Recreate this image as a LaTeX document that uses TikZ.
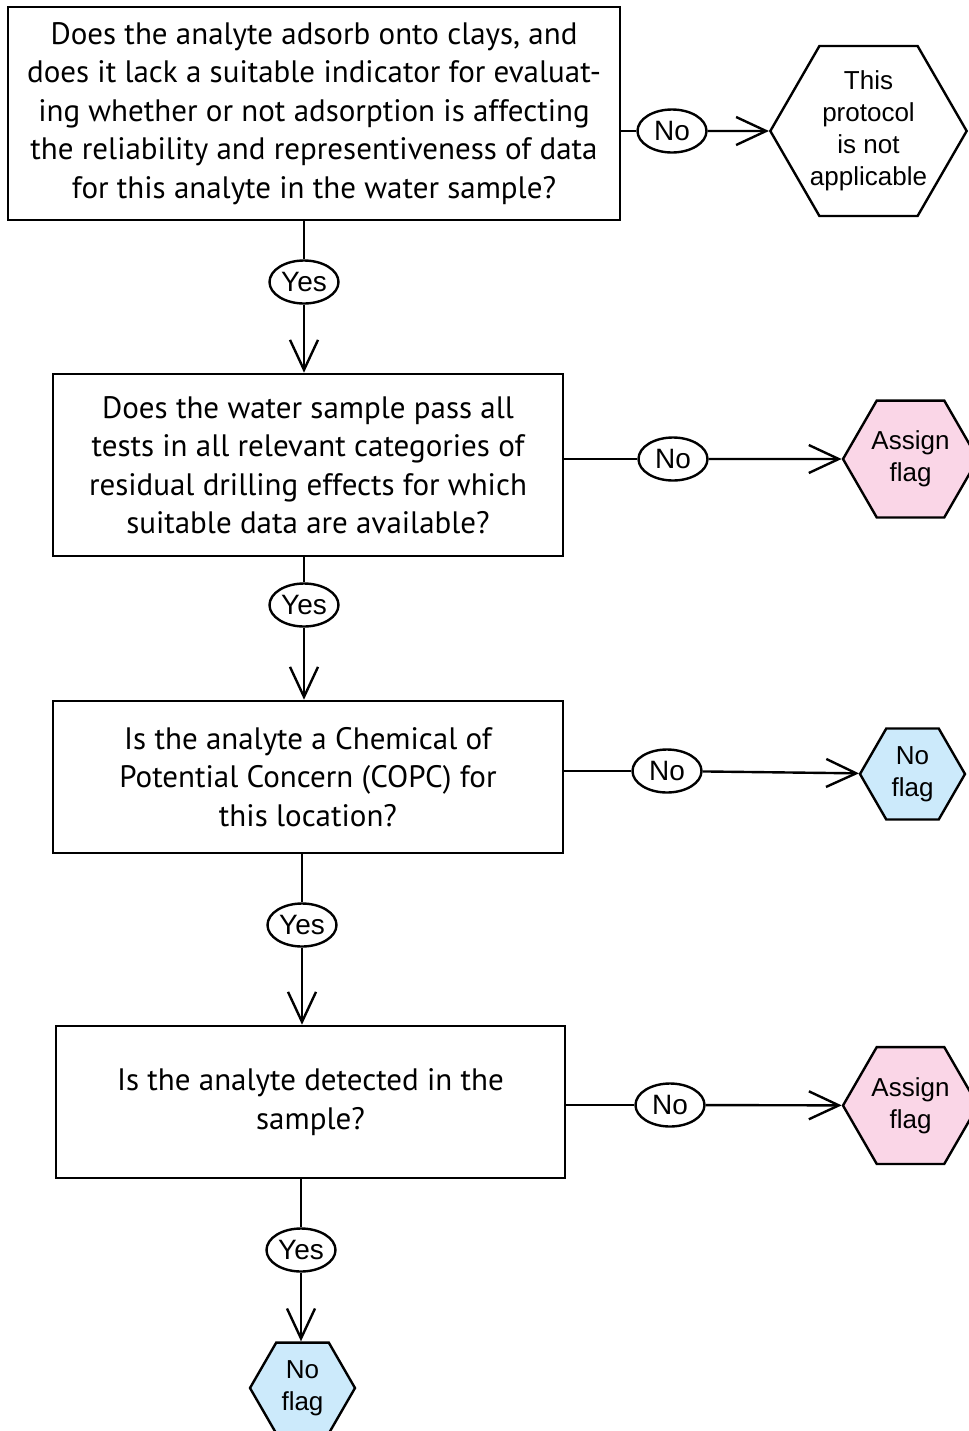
\documentclass[tikz,border=0pt]{standalone}
\usepackage{fontspec}
\setmainfont{PT Sans}
\newfontfamily\arialfont{Liberation Sans}
\usetikzlibrary{shapes.geometric,arrows.meta}
\definecolor{flagpink}{RGB}{250,214,231}
\definecolor{flagblue}{RGB}{204,234,251}
\tikzset{
  question/.style={draw,line width=1.3pt,align=center,inner sep=0pt,font=\fontsize{15.5}{19.25}\selectfont},
  answer/.style={draw,ellipse,fill=white,line width=1.2pt,inner sep=0pt,minimum width=34.5pt,minimum height=21.5pt,font=\arialfont\fontsize{14}{16}\selectfont},
  outcome/.style={draw,regular polygon,regular polygon sides=6,line width=1.2pt,inner sep=0pt,align=center,font=\arialfont\fontsize{13}{16}\selectfont},
}
\begin{document}
\begin{tikzpicture}[x=0.5pt,y=-0.5pt]
      \useasboundingbox (0,0) rectangle (969,1431);
      \draw
        (314,113.5) node[question,minimum width=306pt,minimum height=106.5pt] (q1){Does the analyte adsorb onto clays, and\\does it lack a suitable indicator for evaluat-\\ing whether or not adsorption is affecting\\the reliability and representiveness of data\\for this analyte in the water sample?}
        (308,465) node[question,minimum width=255pt,minimum height=91pt] (q2){Does the water sample pass all\\tests in all relevant categories of\\residual drilling effects for which\\suitable data are available?}
        (308,777) node[question,minimum width=255pt,minimum height=76pt] (q3){Is the analyte a Chemical of\\Potential Concern (COPC) for\\this location?}
        (310.5,1102) node[question,minimum width=254.5pt,minimum height=76pt] (q4){Is the analyte detected in the\\sample?};
      \draw
        (868.5,131) node[outcome,minimum size=96.5pt] (na){This\\protocol\\is not\\applicable}
        (910.5,459) node[outcome,fill=flagpink,minimum size=67.5pt] (flag1){Assign\\flag}
        (912.5,774) node[outcome,fill=flagblue,minimum size=52.5pt] (noflag1){No\\flag}
        (910.5,1105.5) node[outcome,fill=flagpink,minimum size=67.5pt] (flag2){Assign\\flag}
        (302.5,1388) node[outcome,fill=flagblue,minimum size=52.5pt] (noflag2){No\\flag};
      \draw
        (304,282) node[answer] (yes1){Yes}
        (304,605) node[answer] (yes2){Yes}
        (302,925) node[answer] (yes3){Yes}
        (301,1250) node[answer] (yes4){Yes}
        (672,131) node[answer] (no1){No}
        (673,459) node[answer] (no2){No}
        (667,771) node[answer] (no3){No}
        (670,1105) node[answer] (no4){No};
      \begin{scope}[line width=1.2pt,-{Straight Barb[length=15pt,width=14pt]}]
        \draw[-] (q1.south -| yes1) to (yes1);
        \draw (yes1) to (q2.north -| yes1);
        \draw[-] (q2.south -| yes2) to (yes2);
        \draw (yes2) to (q3.north -| yes2);
        \draw[-] (q3.south -| yes3) to (yes3);
        \draw (yes3) to (q4.north -| yes3);
        \draw[-] (q4.south -| yes4) to (yes4);
        \draw (yes4) to (noflag2.north -| yes4);
        \draw[-] (q1.east |- no1) to (no1);
        \draw (no1) to (na);
        \draw[-] (q2.east |- no2) to (no2);
        \draw (no2) to (flag1);
        \draw[-] (q3.east |- no3) to (no3);
        \draw (no3) to (noflag1);
        \draw[-] (q4.east |- no4) to (no4);
        \draw (no4) to (flag2);
      \end{scope}
    \end{tikzpicture}
\end{document}
